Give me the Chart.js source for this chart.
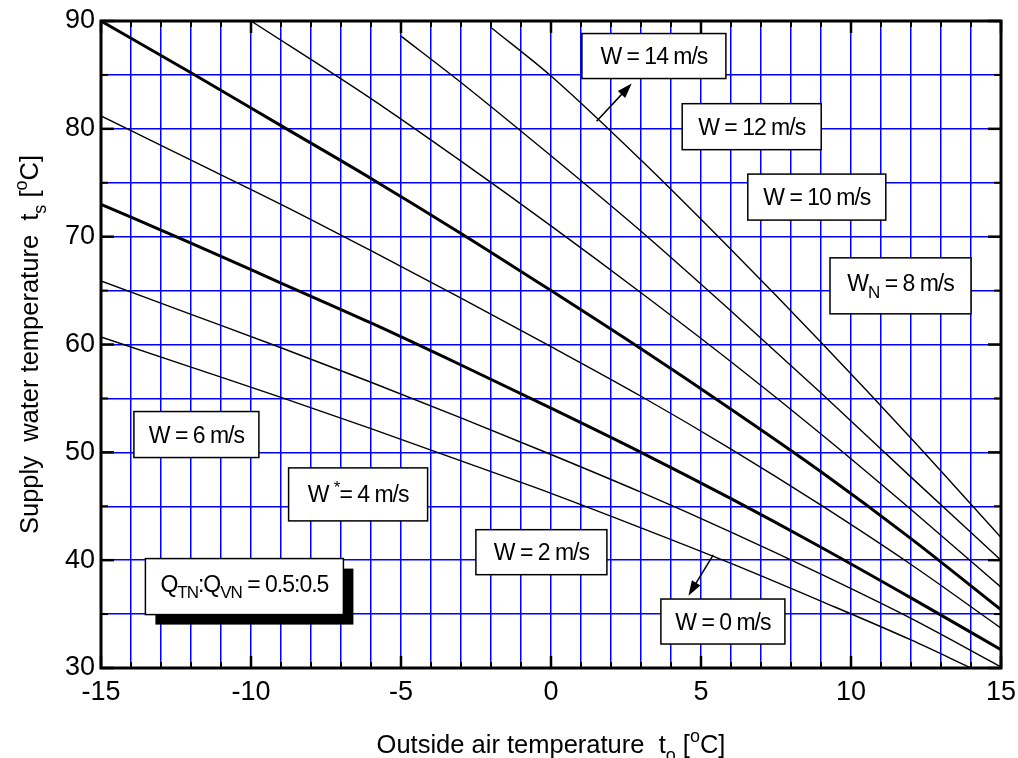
<!DOCTYPE html>
<html>
<head>
<meta charset="utf-8">
<script src="https://cdn.jsdelivr.net/npm/chart.js@4.4.1/dist/chart.umd.min.js"></script>
<style>
  html, body { margin: 0; padding: 0; background: #fff; }
  #wrap { width: 1018px; height: 758px; position: relative; }
</style>
</head>
<body>
<div id="wrap"><canvas id="chart"></canvas></div>
<script>
// supply water temp vs outside air temp, one curve per wind speed
const xFull = [-15, -12, -9, -6, -3, 0, 3, 6, 9, 12, 15];

const xW14 = [-2, 0, 3, 6, 9, 12, 15];
const tW14 = [89.4, 84.9, 77.1, 68.8, 60.2, 51.3, 42.1];

const xW12 = [-5, -3, 0, 3, 6, 9, 12, 15];
const tW12 = [88.6, 84.3, 77.5, 70.5, 63.1, 55.5, 47.7, 40.0];

const xW10 = [-10, -6, -3, 0, 3, 6, 9, 12, 15];
const tW10 = [90.0, 82.8, 77.0, 71.0, 64.8, 58.4, 51.7, 44.7, 37.5];

const tW8 = [90.0, 85.2, 80.3, 75.4, 70.3, 65.0, 59.6, 54.0, 48.2, 42.0, 35.4];
const tW6 = [81.2, 77.1, 73.0, 68.7, 64.3, 59.8, 55.2, 50.3, 45.1, 39.6, 33.7];
const tW4 = [73.0, 69.4, 65.7, 62.0, 58.1, 54.1, 50.0, 45.7, 41.2, 36.5, 31.7];
const tW2 = [65.9, 62.8, 59.7, 56.5, 53.2, 49.8, 46.3, 42.6, 38.7, 34.6, 30.1];

const xW0 = [-15, -12, -9, -6, -3, 0, 3, 6, 9, 12, 14];
const tW0 = [60.7, 57.9, 55.1, 52.2, 49.2, 46.2, 43.0, 39.7, 36.2, 32.6, 30.0];

const FONT = '"Liberation Sans", Arial, sans-serif';

const pts = (xs, ys) => xs.map((x, i) => ({ x, y: ys[i] }));

function curve(label, xs, ys, thick) {
  return {
    label,
    data: pts(xs, ys),
    showLine: true,
    borderColor: '#000',
    borderWidth: thick ? 3 : 1.4,
    pointRadius: 0,
    cubicInterpolationMode: 'monotone',
    fill: false
  };
}

// text boxes (centre in data units, size in px)
const boxes = [
  { runs: [['W = 14 m/s']], x: 3.43, y: 86.75, w: 144, h: 45 },
  { runs: [['W = 12 m/s']], x: 6.69, y: 80.2, w: 139, h: 46 },
  { runs: [['W = 10 m/s']], x: 8.86, y: 73.67, w: 138, h: 46 },
  { runs: [['W'], ['N', 'sub'], [' = 8 m/s']], x: 11.65, y: 65.44, w: 141, h: 56 },
  { runs: [['W = 6 m/s']], x: -11.82, y: 51.65, w: 125, h: 46 },
  { runs: [['W '], ['*', 'sup'], ['= 4 m/s']], x: -6.43, y: 46.1, w: 139, h: 53 },
  { runs: [['W = 2 m/s']], x: -0.32, y: 40.74, w: 131, h: 45 },
  { runs: [['W = 0 m/s']], x: 5.73, y: 34.31, w: 124, h: 45 },
  { runs: [['Q'], ['TN', 'sub'], [':Q'], ['VN', 'sub'], [' = 0.5:0.5']], x: -10.22, y: 37.55, w: 198, h: 56, shadow: 10 }
];

const arrows = [
  { from: [1.52, 80.7], to: [2.69, 84.2] },
  { from: [5.41, 40.5], to: [4.58, 36.7] }
];

function runFont(size, kind) {
  return `${kind ? Math.round(size * 0.72) : size}px ${FONT}`;
}
function richWidth(ctx, runs, size) {
  let w = 0;
  for (const [t, kind] of runs) {
    ctx.font = runFont(size, kind);
    w += ctx.measureText(t).width;
  }
  return w;
}
function drawRich(ctx, runs, x, y, size) {
  for (const [t, kind] of runs) {
    ctx.font = runFont(size, kind);
    const dy = kind === 'sub' ? size * 0.3 : kind === 'sup' ? -size * 0.42 : 0;
    ctx.fillText(t, x, y + dy);
    x += ctx.measureText(t).width;
  }
}

const frameTicks = {
  id: 'frameTicks',
  afterDatasetsDraw(chart) {
    const { ctx, chartArea: a, scales: { x, y } } = chart;
    ctx.save();
    ctx.strokeStyle = '#000';
    ctx.lineCap = 'butt';
    const seg = (x1, y1, x2, y2) => { ctx.beginPath(); ctx.moveTo(x1, y1); ctx.lineTo(x2, y2); ctx.stroke(); };
    for (let v = -15; v <= 15; v++) {
      const px = x.getPixelForValue(v);
      const major = v % 5 === 0;
      const len = major ? 12 : 6;
      ctx.lineWidth = major ? 2.5 : 2;
      seg(px, a.bottom, px, a.bottom - len);
      seg(px, a.top, px, a.top + len);
    }
    for (let v = 30; v <= 90; v += 5) {
      const py = y.getPixelForValue(v);
      const major = v % 10 === 0;
      const len = major ? 13 : 7;
      ctx.lineWidth = major ? 2.5 : 2;
      seg(a.left, py, a.left + len, py);
      seg(a.right, py, a.right - len, py);
    }
    ctx.lineWidth = 3;
    ctx.strokeRect(a.left, a.top, a.right - a.left, a.bottom - a.top);
    ctx.restore();
  }
};

const notes = {
  id: 'notes',
  afterDraw(chart) {
    const { ctx, chartArea: a, scales: { x, y } } = chart;
    ctx.save();
    ctx.fillStyle = '#000';
    ctx.textBaseline = 'alphabetic';

    // arrows
    ctx.strokeStyle = '#000';
    ctx.lineWidth = 1.5;
    arrows.forEach(ar => {
      const x1 = x.getPixelForValue(ar.from[0]), y1 = y.getPixelForValue(ar.from[1]);
      const x2 = x.getPixelForValue(ar.to[0]), y2 = y.getPixelForValue(ar.to[1]);
      const ang = Math.atan2(y2 - y1, x2 - x1);
      ctx.beginPath(); ctx.moveTo(x1, y1); ctx.lineTo(x2 - 10 * Math.cos(ang), y2 - 10 * Math.sin(ang)); ctx.stroke();
      ctx.beginPath();
      ctx.moveTo(x2, y2);
      ctx.lineTo(x2 - 15 * Math.cos(ang) + 5 * Math.sin(ang), y2 - 15 * Math.sin(ang) - 5 * Math.cos(ang));
      ctx.lineTo(x2 - 15 * Math.cos(ang) - 5 * Math.sin(ang), y2 - 15 * Math.sin(ang) + 5 * Math.cos(ang));
      ctx.closePath();
      ctx.fill();
    });

    // boxes
    const size = 23;
    boxes.forEach(b => {
      const cx = x.getPixelForValue(b.x), cy = y.getPixelForValue(b.y);
      const left = cx - b.w / 2, top = cy - b.h / 2;
      if (b.shadow) {
        ctx.fillStyle = '#000';
        ctx.fillRect(left + b.shadow, top + b.shadow, b.w, b.h);
      }
      ctx.fillStyle = '#fff';
      ctx.fillRect(left, top, b.w, b.h);
      ctx.strokeStyle = '#000';
      ctx.lineWidth = 1.5;
      ctx.strokeRect(left, top, b.w, b.h);
      ctx.fillStyle = '#000';
      ctx.letterSpacing = '-1px';
      const w = richWidth(ctx, b.runs, size);
      const hasSub = b.runs.some(r => r[1] === 'sub');
      drawRich(ctx, b.runs, cx - w / 2, cy + 8 - (hasSub ? 3 : 0), size);
      ctx.letterSpacing = '0px';
    });

    // axis titles
    const ts = 25.5;
    const xt = [['Outside air temperature  t'], ['o', 'sub'], [' ['], ['o', 'sup'], ['C]']];
    const xw = richWidth(ctx, xt, ts);
    drawRich(ctx, xt, (a.left + a.right) / 2 - xw / 2, 753, ts);

    const yt = [['Supply  water temperature  t'], ['s', 'sub'], [' ['], ['o', 'sup'], ['C]']];
    const yw = richWidth(ctx, yt, ts);
    ctx.translate(38, (a.top + a.bottom) / 2);
    ctx.rotate(-Math.PI / 2);
    drawRich(ctx, yt, -yw / 2, 0, ts);
    ctx.restore();
  }
};

new Chart(document.getElementById('chart'), {
  type: 'scatter',
  data: {
    datasets: [
      curve('W = 14 m/s', xW14, tW14, false),
      curve('W = 12 m/s', xW12, tW12, false),
      curve('W = 10 m/s', xW10, tW10, false),
      curve('WN = 8 m/s', xFull, tW8, true),
      curve('W = 6 m/s', xFull, tW6, false),
      curve('W* = 4 m/s', xFull, tW4, true),
      curve('W = 2 m/s', xFull, tW2, false),
      curve('W = 0 m/s', xW0, tW0, false)
    ]
  },
  options: {
    responsive: true,
    maintainAspectRatio: false,
    animation: false,
    layout: { padding: { top: 21, right: 17, left: 0, bottom: 0 } },
    plugins: {
      legend: { display: false },
      tooltip: { enabled: false }
    },
    scales: {
      x: {
        type: 'linear',
        min: -15,
        max: 15,
        afterFit: s => { s.height = 90; s.paddingLeft = 0; s.paddingRight = 0; },
        grid: { color: '#0000ff', lineWidth: 1.5, drawTicks: false },
        border: { display: false },
        ticks: {
          stepSize: 1,
          autoSkip: false,
          maxRotation: 0,
          padding: 8,
          color: '#000',
          font: { family: FONT, size: 27 },
          callback: v => (v % 5 === 0 ? v : '')
        }
      },
      y: {
        min: 30,
        max: 90,
        afterFit: s => { s.width = 101; s.paddingTop = 0; s.paddingBottom = 0; },
        grid: { color: '#0000ff', lineWidth: 1.4, drawTicks: false },
        border: { display: false },
        ticks: {
          stepSize: 5,
          autoSkip: false,
          padding: 6,
          color: '#000',
          font: { family: FONT, size: 27 },
          callback: v => (v % 10 === 0 ? v : '')
        }
      }
    }
  },
  plugins: [frameTicks, notes]
});
</script>
</body>
</html>
